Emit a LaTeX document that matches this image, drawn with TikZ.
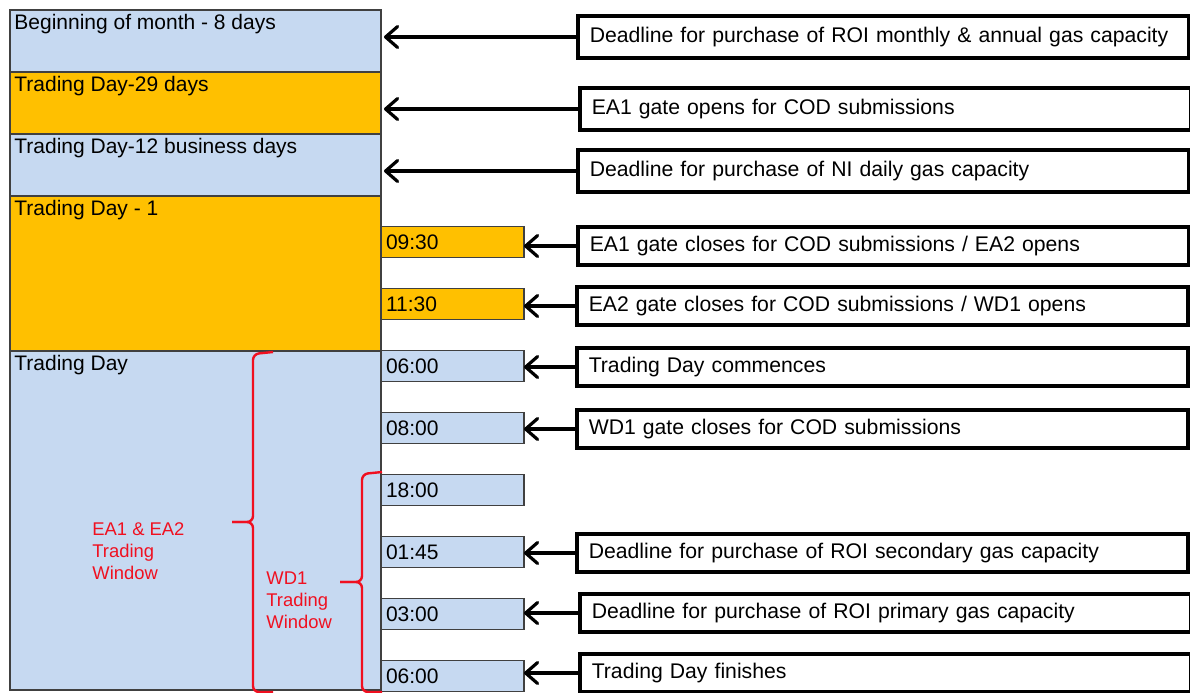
\documentclass[tikz,border=0pt]{standalone}
\usepackage{fontspec}
\setmainfont{Liberation Sans}
\usetikzlibrary{arrows.meta, positioning}
\definecolor{skyrow}{HTML}{C6D9F1}
\definecolor{amberrow}{HTML}{FFC000}
\definecolor{winred}{HTML}{F01020}

\begin{document}
\begin{tikzpicture}[
    x=0.5pt, y=-0.5pt,
    every node/.style={font=\fontsize{10.5}{12.6}\selectfont},
    period/.style={draw=black!75, line width=0.6pt, anchor=north west, minimum width=185.5pt, inner sep=0pt, outer sep=0pt},
    ptext/.style={anchor=north west, inner sep=2pt},
    clock/.style={draw=black!75, line width=0.6pt, anchor=west, text width=66.5pt, align=left, inner xsep=2.5pt, inner ysep=0pt, minimum height=15.5pt, outer sep=0pt},
    event/.style={draw, line width=1.75pt, anchor=west, text width=293.5pt, align=left, inner xsep=6pt, inner ysep=0pt, minimum height=19pt, font=\fontsize{10.6}{12.6}\selectfont},
    arr/.style={-{Straight Barb[length=6pt, width=10.5pt, round]}, line width=1.6pt},
    window/.style={draw=winred, line width=1.2pt, rounded corners=3pt},
    wtext/.style={text=winred, anchor=north west, align=left, inner sep=0pt, font=\fontsize{9.2}{11}\selectfont}
  ]
  \useasboundingbox (0,0) rectangle (1190,692);

  % timeline periods
  \node[period, fill=skyrow, minimum height=31pt, label={[ptext]north west:Beginning of month - 8 days}] (bom) at (10,10) {};
  \node[period, fill=amberrow, minimum height=31pt, label={[ptext]north west:Trading Day-29 days}, below=0pt of bom] (td29) {};
  \node[period, fill=skyrow, minimum height=31pt, label={[ptext]north west:Trading Day-12 business days}, below=0pt of td29] (td12) {};
  \node[period, fill=amberrow, minimum height=77.5pt, label={[ptext]north west:Trading Day - 1}, below=0pt of td12] (tdm1) {};
  \node[period, fill=skyrow, minimum height=169.5pt, label={[ptext]north west:Trading Day}, below=0pt of tdm1] (tday) {};

  % clock times
  \node[clock, fill=amberrow] (t0930) at (381,242) {09:30};
  \node[clock, fill=amberrow] (t1130) at (381,304) {11:30};
  \node[clock, fill=skyrow] (t0600a) at (381,366) {06:00};
  \node[clock, fill=skyrow] (t0800) at (381,428) {08:00};
  \node[clock, fill=skyrow] (t1800) at (381,490) {18:00};
  \node[clock, fill=skyrow] (t0145) at (381,552) {01:45};
  \node[clock, fill=skyrow] (t0300) at (381,614) {03:00};
  \node[clock, fill=skyrow] (t0600b) at (381,676) {06:00};

  % events
  \node[event, minimum height=21pt] (ev1) at (576,37) {Deadline for purchase of ROI monthly \& annual gas capacity};
  \node[event, minimum height=21pt] (ev2) at (578,109) {EA1 gate opens for COD submissions};
  \node[event, minimum height=21pt] (ev3) at (576,171) {Deadline for purchase of NI daily gas capacity};
  \node[event] (ev4) at (576,246) {EA1 gate closes for COD submissions / EA2 opens};
  \node[event] (ev5) at (575,306) {EA2 gate closes for COD submissions / WD1 opens};
  \node[event] (ev6) at (575,367) {Trading Day commences};
  \node[event] (ev7) at (575,429) {WD1 gate closes for COD submissions};
  \node[event] (ev8) at (575,553) {Deadline for purchase of ROI secondary gas capacity};
  \node[event] (ev9) at (578,613) {Deadline for purchase of ROI primary gas capacity};
  \node[event] (ev10) at (578,673) {Trading Day finishes};

  \draw[arr, shorten >=1.5pt] (ev1.west) -- (ev1.west -| bom.east);
  \draw[arr, shorten >=1.5pt] (ev2.west) -- (ev2.west -| td29.east);
  \draw[arr, shorten >=1.5pt] (ev3.west) -- (ev3.west -| td12.east);
  \draw[arr] (ev4.west) -- (ev4.west -| t0930.east);
  \draw[arr] (ev5.west) -- (ev5.west -| t1130.east);
  \draw[arr] (ev6.west) -- (ev6.west -| t0600a.east);
  \draw[arr] (ev7.west) -- (ev7.west -| t0800.east);
  \draw[arr] (ev8.west) -- (ev8.west -| t0145.east);
  \draw[arr] (ev9.west) -- (ev9.west -| t0300.east);
  \draw[arr] (ev10.west) -- (ev10.west -| t0600b.east);

  % trading windows
  \draw[window] (273,352) -- (253,354) -- (253,522) -- (232,522);
  \draw[window] (232,522) -- (253,522) -- (253,692) -- (273,692);
  \draw[window] (382,472) -- (362,474) -- (362,582) -- (340,582);
  \draw[window] (340,582) -- (362,582) -- (362,692) -- (382,692);
  \node[wtext] (eawin) at (92,522) {EA1 \& EA2\\Trading\\Window};
  \node[wtext] (wdwin) at (266,571) {WD1\\Trading\\Window};
\end{tikzpicture}
\end{document}
